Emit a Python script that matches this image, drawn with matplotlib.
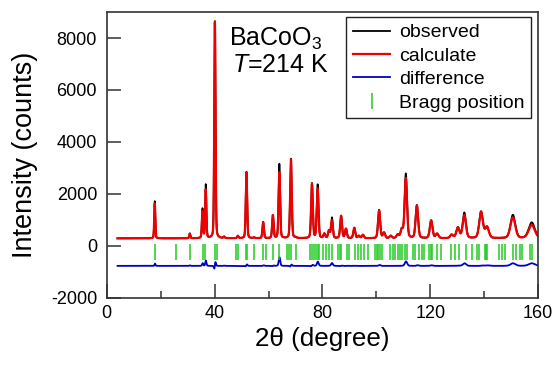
import numpy as np
import matplotlib
matplotlib.use("Agg")
import matplotlib.pyplot as plt

plt.rcParams['font.family'] = ['Liberation Sans', 'DejaVu Sans']
plt.rcParams['mathtext.fontset'] = 'custom'
plt.rcParams['mathtext.rm'] = 'Liberation Sans'
plt.rcParams['mathtext.it'] = 'Liberation Sans:italic'
plt.rcParams['axes.unicode_minus'] = False

# peak list: 2theta, calculated height, observed height (counts above background)
PEAK_POS = [17.8, 30.8, 35.5, 36.7, 40.1, 43.5, 48.6, 51.8, 54.6, 58.0,
            61.6, 64.0, 68.3, 70.0, 76.1, 78.2, 80.7, 82.4, 83.5, 86.9,
            88.7, 91.8, 93.5, 95.0, 101.0, 102.8, 105.3, 107.9, 109.4, 110.9,
            115.0, 120.3, 122.5, 127.9, 130.2, 132.6, 138.8, 141.0, 150.6, 157.6]
CALC_H = [1350, 170, 1030, 1860, 8330, 50, 90, 2530, 30, 610,
          880, 2530, 3040, 30, 2090, 1900, 170, 290, 680, 860,
          360, 400, 90, 130, 1060, 210, 90, 130, 330, 2310,
          1250, 670, 170, 130, 400, 880, 1010, 410, 800, 510]
OBS_H = [1430, 190, 1130, 2060, 8360, 60, 90, 2560, 30, 630,
         880, 2860, 3060, 30, 2110, 2060, 170, 290, 790, 860,
         360, 400, 90, 130, 1090, 210, 90, 130, 330, 2480,
         1270, 690, 170, 130, 410, 980, 1020, 430, 900, 610]
BACKGROUND = 290
DIFF_OFFSET = -770

# Bragg reflection positions (green ticks)
BRAGG = [17.8, 25.6, 30.8, 35.6, 36.6, 40.1, 40.7, 47.8, 48.5, 51.5,
         52.0, 54.6, 58.0, 59.0, 61.6, 64.0, 66.9, 67.6, 68.2, 70.0,
         75.4, 76.1, 76.8, 77.6, 78.3, 78.8, 80.1, 81.3, 82.5, 83.6,
         85.9, 86.5, 86.9, 89.0, 89.8, 92.2, 93.3, 94.3, 95.5, 96.8,
         99.6, 100.1, 100.7, 101.3, 102.1, 105.2, 106.1, 107.0, 108.1, 108.8,
         109.4, 110.6, 111.5, 113.5, 114.4, 115.7, 117.0, 117.7, 119.6, 120.2,
         120.6, 122.6, 124.1, 127.7, 129.2, 130.8, 133.4, 135.5, 137.2, 138.1,
         140.1, 140.6, 140.9, 145.5, 146.6, 147.6, 150.8, 151.8, 153.3, 153.9,
         157.0, 157.8]
BRAGG_Y = -230


def profile(x, pos, heights, shift=0.0):
    # pseudo-Voigt peaks, width growing with tan(theta)
    y = np.full_like(x, BACKGROUND, dtype=float)
    for p, h in zip(pos, heights):
        p = p + shift
        fwhm = 0.38 + 0.45 * np.tan(np.radians(p / 2))
        g = np.exp(-4 * np.log(2) * ((x - p) / fwhm) ** 2)
        l = 1 / (1 + 4 * ((x - p) / fwhm) ** 2)
        y += h * (0.75 * g + 0.25 * l)
    return y


tth = np.arange(4, 160.001, 0.02)
calc = profile(tth, PEAK_POS, CALC_H)
obs = profile(tth, PEAK_POS, OBS_H, shift=0.006)
diff = obs - calc + DIFF_OFFSET

fig = plt.figure(figsize=(5.56, 3.65), dpi=100)
ax = fig.add_axes([0.192, 0.184, 0.776, 0.783])

ax.plot(tth, obs, color='black', lw=1.3, label='observed')
ax.plot(tth, calc, color='#ee0000', lw=1.6, label='calculate')
ax.plot(tth, diff, color='#0000c0', lw=1.3, label='difference')
ax.plot(BRAGG, [BRAGG_Y] * len(BRAGG), ls='none', marker='|', ms=11,
        mew=1.1, color='#22cc22', label='Bragg position')

ax.set_xlim(0, 160)
ax.set_ylim(-2000, 9000)
ax.set_xticks([0, 40, 80, 120, 160])
ax.set_xticks([20, 60, 100, 140], minor=True)
ax.set_yticks([-2000, 0, 2000, 4000, 6000, 8000])
ax.tick_params(which='both', direction='in', top=False, right=False,
               labelsize=13, color='#333333', width=1.1)
ax.tick_params(which='major', length=10)
ax.tick_params(which='minor', length=5)
ax.tick_params(axis='y', pad=7)
ax.tick_params(axis='x', pad=5)
for s in ax.spines.values():
    s.set_linewidth(1.2)
    s.set_color('#333333')

ax.set_xlabel('2θ (degree)', fontsize=18.7, labelpad=4)
ax.set_ylabel('Intensity (counts)', fontsize=19.5, labelpad=9)

ax.text(45.5, 7950, 'BaCoO$_3$', fontsize=18, va='center', ha='left')
ax.text(46.5, 6950, '$T$=214 K', fontsize=18, va='center', ha='left')

leg = ax.legend(loc='upper right', bbox_to_anchor=(0.984, 0.983), borderaxespad=0,
                fontsize=14, handlelength=1.9, handletextpad=0.45, labelspacing=0.3,
                borderpad=0.35, fancybox=False, framealpha=1, edgecolor='#222222')
leg.get_frame().set_linewidth(1.0)

fig.savefig('out.png', dpi=100)
